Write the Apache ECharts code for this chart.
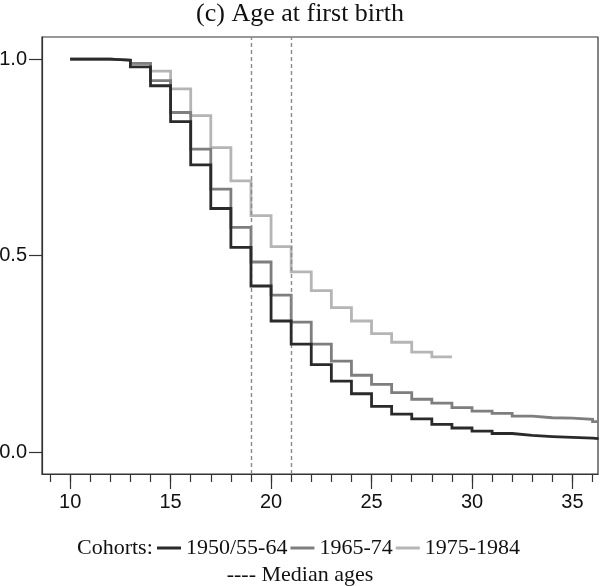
<!DOCTYPE html>
<html>
<head>
<meta charset="utf-8">
<script src="https://cdn.jsdelivr.net/npm/echarts@6/dist/echarts.min.js"></script>
<style>
html,body{margin:0;padding:0;background:#fff;}
#chart{width:600px;height:586px;}
</style>
</head>
<body>
<div id="chart"></div>
<script>
// ---- data ----
const titleText = '(c) Age at first birth';
const cohortNames = ['1950/55-64', '1965-74', '1975-1984'];
const agesOld = [10,11,12,13,14,15,16,17,18,19,20,21,22,23,24,25,26,27,28,29,30,31,32,33,34,35,36];
const surv1950 = [1.000,1.000,0.997,0.980,0.932,0.841,0.731,0.620,0.521,0.423,0.334,0.275,0.223,0.181,0.149,0.117,0.097,0.085,0.071,0.062,0.054,0.048,0.043,0.040,0.038,0.036,0.035];
const surv1965 = [1.000,1.000,0.997,0.989,0.945,0.864,0.771,0.669,0.572,0.484,0.400,0.331,0.275,0.232,0.196,0.173,0.152,0.135,0.125,0.114,0.105,0.099,0.092,0.088,0.087,0.084,0.078];
const agesYoung = [10,11,12,13,14,15,16,17,18,19,20,21,22,23,24,25,26,27,28];
const surv1975 = [1.000,1.000,0.998,0.989,0.969,0.924,0.856,0.775,0.690,0.602,0.523,0.459,0.411,0.368,0.334,0.302,0.280,0.255,0.243];
const endAges = [36.3, 36.3, 29];   // where each last step ends
const medianAges = [19, 21];
const xMajorTicks = [10,15,20,25,30,35];
const xMinorTicks = [9,10,11,12,13,14,15,16,17,18,19,20,21,22,23,24,25,26,27,28,29,30,31,32,33,34,35,36];
const yTicks = [0, 0.5, 1.0];
const legendPrefix = 'Cohorts:';
const medianLabel = '---- Median ages';

// ---- chart ----
const X_MIN = 8.6, X_MAX = 36.27, Y_MIN = -0.055, Y_MAX = 1.056;
function steps(ages, vals, endAge){
  const d = ages.map((a,i)=>[a, vals[i]]);
  d.push([endAge, vals[vals.length-1]]);
  return d;
}
const colors = ['#2a2a2a', '#7e7e7e', '#b5b5b5'];
const seriesData = [
  steps(agesOld, surv1950, endAges[0]),
  steps(agesOld, surv1965, endAges[1]),
  steps(agesYoung, surv1975, endAges[2])
];
const axisColor = '#333';
const series = [];
// draw lightest first so darker lines sit on top
for (let i = 2; i >= 0; i--) {
  const s = {
    name: cohortNames[i], type: 'line', step: 'end', data: seriesData[i],
    symbol: 'none', showSymbol: false, silent: true,
    lineStyle: {color: colors[i], width: 2.8, cap: 'butt', join: 'miter'},
    itemStyle: {color: colors[i]},
    z: 3 + (2 - i)
  };
  if (i === 0) {
    s.markLine = {
      silent: true, symbol: 'none', label: {show: false},
      lineStyle: {type: [4, 3], color: '#8a8a8a', width: 1.4},
      data: medianAges.map(a => ({xAxis: a}))
    };
  }
  series.push(s);
}

const chart = echarts.init(document.getElementById('chart'), null, {renderer: 'canvas'});
chart.setOption({
  animation: false,
  backgroundColor: '#fff',
  title: {
    text: titleText, left: 'center', top: 1, padding: 0,
    textStyle: {fontFamily: 'Liberation Serif', fontSize: 26, fontWeight: 'normal', color: '#111'}
  },
  grid: {
    left: 42, right: 2, top: 37, bottom: 112,
    containLabel: false, outerBoundsMode: 'none',
    show: true, borderColor: axisColor, borderWidth: 1.2, backgroundColor: 'transparent'
  },
  xAxis: [{
    type: 'value', min: X_MIN, max: X_MAX, position: 'bottom',
    axisLine: {show: true, onZero: false, lineStyle: {color: axisColor, width: 1.2}},
    axisTick: {show: true, customValues: xMajorTicks, length: 15, lineStyle: {color: axisColor, width: 1.2}},
    axisLabel: {customValues: xMajorTicks, margin: 18, fontFamily: 'Liberation Sans', fontSize: 20, color: '#111'},
    splitLine: {show: false}
  }, {
    type: 'value', min: X_MIN, max: X_MAX, position: 'bottom', gridIndex: 0,
    axisLine: {show: false, onZero: false},
    axisTick: {show: true, customValues: xMinorTicks, length: 8, lineStyle: {color: axisColor, width: 1.2}},
    axisLabel: {show: false},
    splitLine: {show: false}
  }],
  yAxis: {
    type: 'value', min: Y_MIN, max: Y_MAX,
    axisLine: {show: true, onZero: false, lineStyle: {color: axisColor, width: 1.2}},
    axisTick: {show: true, customValues: yTicks, length: 13, lineStyle: {color: axisColor, width: 1.2}},
    axisLabel: {customValues: yTicks, margin: 15, fontFamily: 'Liberation Sans', fontSize: 20, color: '#111',
      formatter: v => v.toFixed(1)},
    splitLine: {show: false}
  },
  legend: {
    data: cohortNames, left: 157, top: 537, padding: 0,
    icon: 'rect', itemWidth: 24, itemHeight: 3, itemGap: 3,
    textStyle: {fontFamily: 'Liberation Serif', fontSize: 22, color: '#111'},
    selectedMode: false
  },
  graphic: [{
    type: 'text', left: 77, top: 537,
    style: {text: legendPrefix, font: '22px "Liberation Serif"', fill: '#111'}
  }, {
    type: 'text', left: 'center', top: 564,
    style: {text: medianLabel, font: '22px "Liberation Serif"', fill: '#111'}
  }],
  series: series
});
</script>
</body>
</html>
